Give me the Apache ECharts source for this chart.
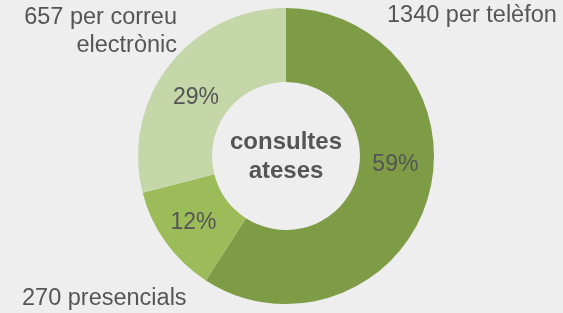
<!DOCTYPE html>
<html>
<head>
<meta charset="utf-8">
<script src="https://cdn.jsdelivr.net/npm/echarts@6/dist/echarts.min.js"></script>
<style>
  html, body { margin: 0; padding: 0; background: #eeeeee; }
  #chart { width: 563px; height: 313px; }
</style>
</head>
<body>
<div id="chart"></div>
<script>
const categories = ["per telèfon", "presencials", "per correu electrònic"];
const values = [1340, 270, 657];
const colors = ["#7e9c45", "#9cbb59", "#c5d6a8"];
const centerTitle = "consultes\nateses";

const chart = echarts.init(document.getElementById("chart"));
const font = "'Liberation Sans', Arial, sans-serif";

const option = {
  backgroundColor: "#eeeeee",
  animation: false,
  graphic: [
    {
      type: "text", x: 387, y: 4, z: 10,
      style: { text: values[0] + " " + categories[0], font: "23.5px " + font, fill: "#555" }
    },
    {
      type: "text", x: 177, y: 4, z: 10,
      style: { text: values[2] + " per correu\nelectrònic", font: "23.5px " + font, fill: "#555", align: "right", lineHeight: 28 }
    },
    {
      type: "text", x: 22, y: 287, z: 10,
      style: { text: values[1] + " " + categories[1], font: "23.5px " + font, fill: "#555" }
    },
    {
      type: "text", x: 286, y: 157, z: 10,
      style: {
        text: centerTitle, font: "bold 24px " + font, fill: "#555",
        align: "center", verticalAlign: "middle", lineHeight: 29
      }
    }
  ],
  series: [
    {
      type: "pie",
      center: [286, 156],
      radius: [74, 148],
      startAngle: 90,
      clockwise: true,
      silent: true,
      data: categories.map((c, i) => ({ name: c, value: values[i], itemStyle: { color: colors[i] } })),
      label: {
        show: true,
        position: "inside",
        formatter: (p) => Math.round(p.percent) + "%",
        color: "#555",
        fontFamily: font,
        fontSize: 23
      },
      labelLine: { show: false },
      labelLayout: (params) => {
        if (params.dataIndex === 0) return { dy: -24 };
        if (params.dataIndex === 2) return { dy: 12 };
        return {};
      }
    }
  ]
};

chart.setOption(option);
</script>
</body>
</html>
